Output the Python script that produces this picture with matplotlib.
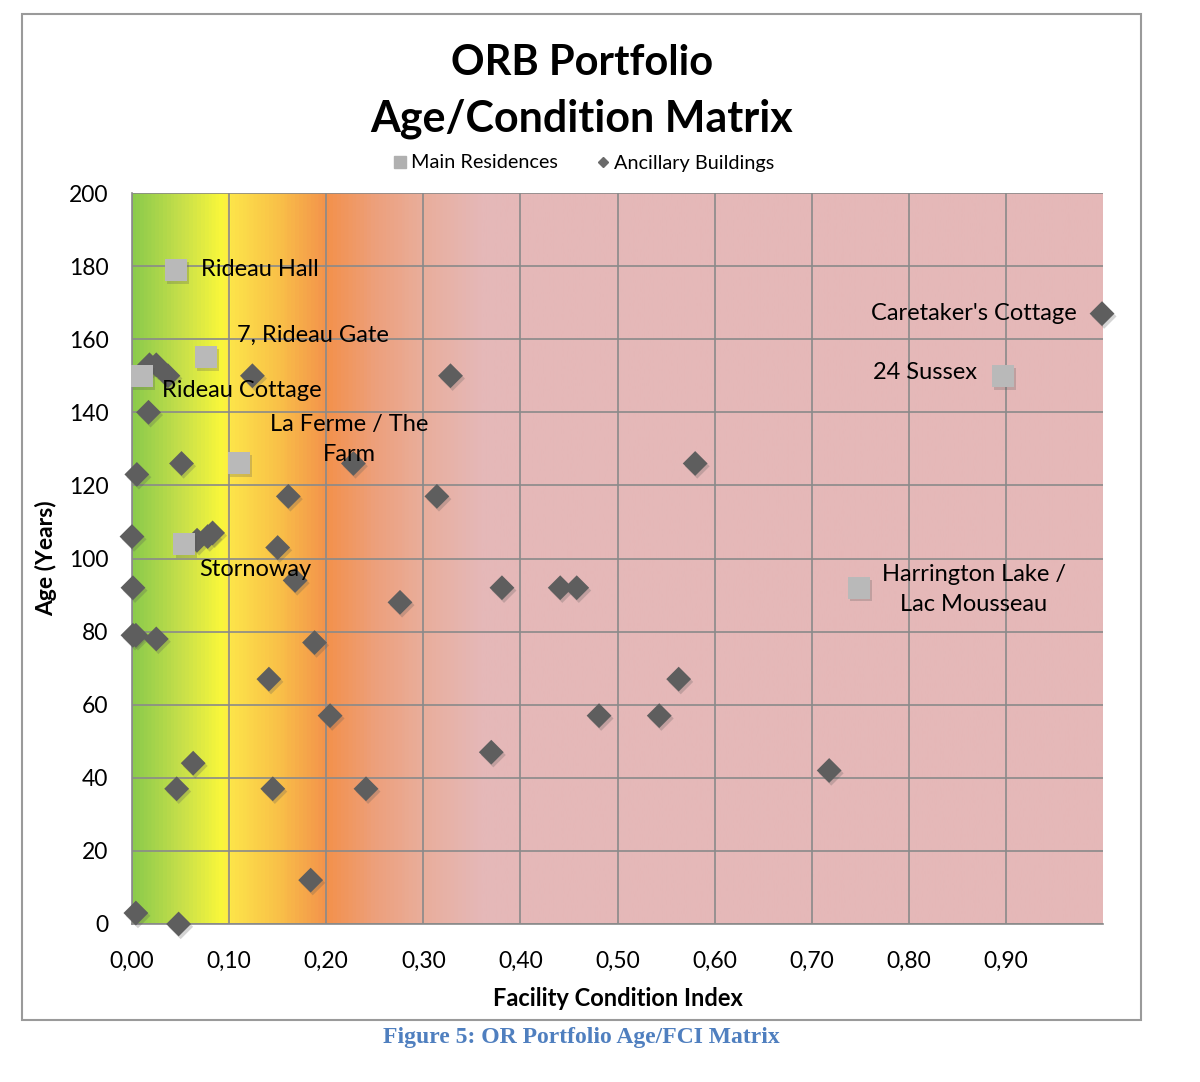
import numpy as np
import matplotlib
matplotlib.use("Agg")
import matplotlib.pyplot as plt
from matplotlib.colors import LinearSegmentedColormap
from matplotlib.lines import Line2D
from matplotlib.patches import Rectangle
import matplotlib.patheffects as pe

plt.rcParams['font.family'] = ['Lato', 'DejaVu Sans']

# Main residences (FCI, age)
main_names = ["Rideau Hall", "7, Rideau Gate", "Rideau Cottage", "La Ferme / The\nFarm",
              "Stornoway", "24 Sussex", "Harrington Lake /\nLac Mousseau"]
main_fci = [0.045, 0.076, 0.010, 0.110, 0.054, 0.897, 0.749]
main_age = [179, 155, 150, 126, 104, 150, 92]

# Ancillary buildings (FCI, age)
anc_fci = [0.999, 0.018, 0.025, 0.037, 0.124, 0.017, 0.051, 0.005, 0.228, 0.328,
           0.580, 0.161, 0.314, 0.000, 0.067, 0.078, 0.083, 0.150, 0.168, 0.001,
           0.276, 0.001, 0.004, 0.025, 0.188, 0.141, 0.204, 0.063, 0.046, 0.145,
           0.241, 0.184, 0.004, 0.048, 0.381, 0.441, 0.458, 0.563, 0.481, 0.543,
           0.370, 0.718]
anc_age = [167, 153, 153, 150, 150, 140, 126, 123, 126, 150,
           126, 117, 117, 106, 105, 106, 107, 103, 94, 92,
           88, 79, 79, 78, 77, 67, 57, 44, 37, 37,
           37, 12, 3, 0, 92, 92, 92, 67, 57, 57,
           47, 42]

x_ticks = [0.0, 0.1, 0.2, 0.3, 0.4, 0.5, 0.6, 0.7, 0.8, 0.9]
x_labels = ["0,00", "0,10", "0,20", "0,30", "0,40", "0,50", "0,60", "0,70", "0,80", "0,90"]
y_ticks = [0, 20, 40, 60, 80, 100, 120, 140, 160, 180, 200]

# label anchors (text position, alignment)
label_pos = [(0.071, 179, 'left'), (0.108, 161, 'left'), (0.031, 146, 'left'),
             (0.2235, 132.5, 'center'), (0.069, 97, 'left'), (0.870, 151, 'right'),
             (0.867, 91.5, 'center')]

fig = plt.figure(figsize=(12, 10.82), dpi=100)
fig.patches.append(Rectangle((22 / 1200, 1 - 1020 / 1082), (1141 - 22) / 1200, (1020 - 14) / 1082,
                             transform=fig.transFigure, fill=False, edgecolor='#9a9a9a', linewidth=1.5))

ax = fig.add_axes([132 / 1200, 1 - 924 / 1082, (1103 - 132) / 1200, (924 - 193) / 1082])

# background gradient
cmap = LinearSegmentedColormap.from_list("fci", [
    (0.00, "#8ccb4c"), (0.05, "#c8e04a"), (0.092, "#fbf83a"), (0.10, "#fde44a"),
    (0.15, "#f9c048"), (0.20, "#f3914c"), (0.25, "#eda07c"), (0.30, "#e9ae9c"),
    (0.36, "#e5b8b8"), (1.00, "#e5b8b8")])
grad = np.linspace(0, 1, 1000).reshape(1, -1)
ax.imshow(grad, cmap=cmap, extent=[0, 1, 0, 200], aspect='auto', zorder=0)

ax.set_xlim(0, 1.0)
ax.set_ylim(0, 200)
ax.set_xticks(x_ticks)
ax.set_xticklabels(x_labels)
ax.set_yticks(y_ticks)
ax.tick_params(length=0, labelsize=16.5)
ax.tick_params(axis='x', pad=19)
ax.tick_params(axis='y', pad=17)
ax.grid(True, color='#8a8a8a', linewidth=1.2, zorder=1)
ax.set_axisbelow(False)
for s in ['top', 'right']:
    ax.spines[s].set_visible(False)
for s in ['left', 'bottom']:
    ax.spines[s].set_color('#8a8a8a')
    ax.spines[s].set_linewidth(1.2)

shadow = [pe.SimplePatchShadow(offset=(1.5, -2), alpha=0.25, shadow_rgbFace='#555555'), pe.Normal()]
ax.scatter(anc_fci, anc_age, marker='D', s=160, color='#5e5e5e', linewidths=0,
           zorder=3, clip_on=False, path_effects=shadow)
ax.scatter(main_fci, main_age, marker='s', s=250, color='#b9b9b9', linewidths=0,
           zorder=4, clip_on=False, path_effects=shadow)

for name, (lx, ly, ha) in zip(main_names, label_pos):
    ax.text(lx, ly, name, ha=ha, va='center', fontsize=17, multialignment='center',
            linespacing=1.55, zorder=5)
ax.text(0.973, 167, "Caretaker's Cottage", ha='right', va='center', fontsize=17, zorder=5)

ax.set_xlabel("Facility Condition Index", fontsize=17, fontweight='bold', labelpad=11)
ax.set_ylabel("Age (Years)", fontsize=16.5, fontweight='bold', labelpad=8)

fig.text(582 / 1200, 1 - 63 / 1082, "ORB Portfolio", ha='center', va='center',
         fontsize=30, fontweight='bold')
fig.text(582 / 1200, 1 - 119 / 1082, "Age/Condition Matrix", ha='center', va='center',
         fontsize=31, fontweight='bold')

handles = [Line2D([], [], marker='s', linestyle='none', color='#b0b0b0', markersize=8,
                  label='Main Residences'),
           Line2D([], [], marker='D', linestyle='none', color='#6a6a6a', markersize=5.5,
                  label='Ancillary Buildings')]
fig.legend(handles=handles, loc='center', bbox_to_anchor=(582 / 1200, 1 - 163 / 1082),
           ncol=2, frameon=False, fontsize=14.3, handletextpad=0.05, columnspacing=1.8,
           handlelength=1.0)

fig.text(581 / 1200, 1 - 1037 / 1082, "Figure 5: OR Portfolio Age/FCI Matrix", ha='center',
         va='center', fontsize=17, fontweight='bold', color='#4f7fbf',
         family=['Liberation Serif', 'DejaVu Serif'])

fig.savefig("out.png", dpi=100)
